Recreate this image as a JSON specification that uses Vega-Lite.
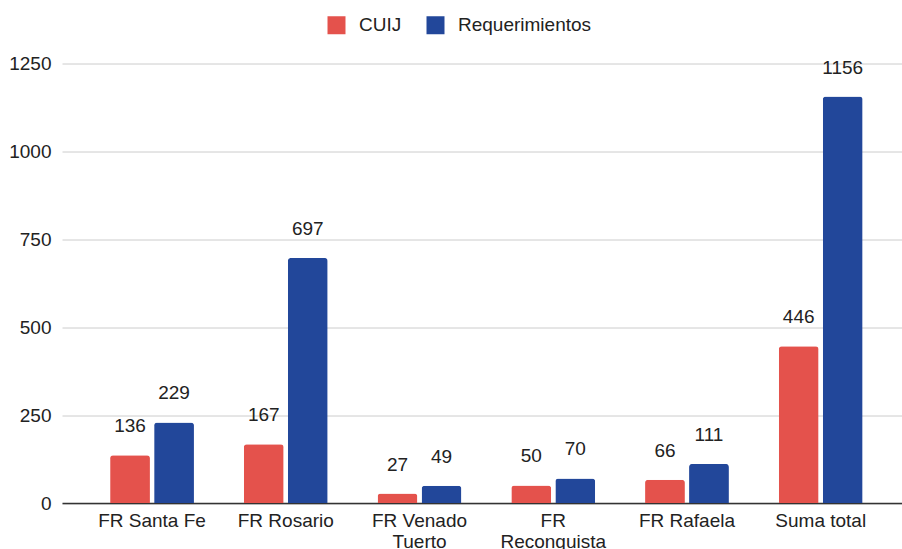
{
  "$schema": "https://vega.github.io/schema/vega-lite/v6.json",
  "width": 840,
  "height": 439.5,
  "autosize": {"type": "none"},
  "padding": {"left": 62, "top": 63.5, "right": 0, "bottom": 46},
  "background": "#ffffff",
  "config": {
    "font": "Liberation Sans",
    "view": {"stroke": null},
    "text": {"font": "Liberation Sans"}
  },
  "data": {
    "values": [
      {"sede": "FR Santa Fe", "serie": "CUIJ", "valor": 136},
      {"sede": "FR Santa Fe", "serie": "Requerimientos", "valor": 229},
      {"sede": "FR Rosario", "serie": "CUIJ", "valor": 167},
      {"sede": "FR Rosario", "serie": "Requerimientos", "valor": 697},
      {"sede": "FR Venado Tuerto", "serie": "CUIJ", "valor": 27},
      {"sede": "FR Venado Tuerto", "serie": "Requerimientos", "valor": 49},
      {"sede": "FR Reconquista", "serie": "CUIJ", "valor": 50},
      {"sede": "FR Reconquista", "serie": "Requerimientos", "valor": 70},
      {"sede": "FR Rafaela", "serie": "CUIJ", "valor": 66},
      {"sede": "FR Rafaela", "serie": "Requerimientos", "valor": 111},
      {"sede": "Suma total", "serie": "CUIJ", "valor": 446},
      {"sede": "Suma total", "serie": "Requerimientos", "valor": 1156}
    ]
  },
  "encoding": {
    "x": {
      "field": "sede",
      "type": "nominal",
      "sort": null,
      "scale": {"paddingInner": 0.373, "paddingOuter": 0.327, "align": 0.55},
      "axis": {
        "title": null,
        "labelAngle": 0,
        "labelFontSize": 19,
        "labelColor": "#222222",
        "labelPadding": 8,
        "labelLineHeight": 21,
        "labelBaseline": "top",
        "ticks": false,
        "domainColor": "#333333",
        "domainWidth": 1.5,
        "labelExpr": "datum.label == 'FR Venado Tuerto' ? ['FR Venado', 'Tuerto'] : datum.label == 'FR Reconquista' ? ['FR', 'Reconquista'] : datum.label"
      }
    },
    "xOffset": {
      "field": "serie",
      "type": "nominal",
      "scale": {"paddingInner": 0.095, "paddingOuter": 0}
    },
    "y": {
      "field": "valor",
      "type": "quantitative",
      "scale": {"domain": [0, 1250]},
      "axis": {
        "title": null,
        "values": [0, 250, 500, 750, 1000, 1250],
        "format": "d",
        "labelFontSize": 19,
        "labelColor": "#222222",
        "labelPadding": 11,
        "ticks": false,
        "domain": false,
        "gridColor": "#cccccc",
        "gridWidth": 1
      }
    }
  },
  "layer": [
    {
      "mark": {"type": "bar", "cornerRadiusTopLeft": 3, "cornerRadiusTopRight": 3},
      "encoding": {
        "color": {
          "field": "serie",
          "type": "nominal",
          "scale": {"domain": ["CUIJ", "Requerimientos"], "range": ["#e4524c", "#22479a"]},
          "legend": {
            "title": null,
            "orient": "none",
            "direction": "horizontal",
            "legendX": 265,
            "legendY": -48,
            "symbolType": "square",
            "symbolSize": 324,
            "symbolStrokeWidth": 0,
            "symbolOpacity": 1,
            "labelFontSize": 19,
            "labelColor": "#222222",
            "labelOffset": 13,
            "columnPadding": 24
          }
        }
      }
    },
    {
      "mark": {"type": "text", "baseline": "middle", "align": "center", "dy": -29, "fontSize": 19, "color": "#222222"},
      "encoding": {
        "text": {"field": "valor", "type": "quantitative"}
      }
    }
  ]
}
